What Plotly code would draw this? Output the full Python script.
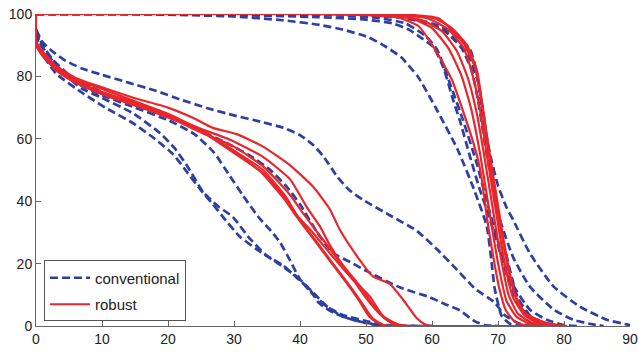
import plotly.graph_objects as go

# ---- Data (dose in Gy on x, volume % on y) ----
x_ticks = [0, 10, 20, 30, 40, 50, 60, 70, 80, 90]
y_ticks = [0, 20, 40, 60, 80, 100]

# conventional plans (blue dashed) - target curves
conv_t1 = [(0,100),(15,100),(20,99.8),(30,99.2),(37.4,98),(43,96.5),(46.5,95),(50.3,92.6),(53,89.5),(55.3,86.2),(57.9,79.8),(60.5,70.2),(63.9,56.5),(66.5,43),(68.3,32),(69,21),(69.5,12),(70.6,3),(72,0.5),(74,0)]
conv_t2 = [(0,100),(20,100),(30,99.7),(42.7,99),(50,98.2),(54,97),(56.5,95),(58.2,92.6),(60.2,89.4),(61.7,83),(63.2,72.5),(64.2,66),(65.8,54),(67.2,44),(68.5,36),(69.7,28),(70.8,20),(72,12),(73.5,6),(75.5,2),(78,0.3),(80,0)]
conv_t3 = [(0,100),(30,100),(45,99.6),(52,98.7),(56,97),(59,93),(60.8,88.5),(62.7,77.8),(64.7,66),(66.8,52),(68.3,40),(69.8,28.6),(71.8,14.9),(74.8,5.3),(77.4,2),(80,0.3),(82,0)]
conv_t4 = [(0,100),(30,100),(48,99.8),(55,99.3),(58.2,98),(61,96.3),(63.2,93.8),(65.8,88.5),(66.8,81),(67.6,69),(68.8,55),(70,45),(71.3,38),(72.3,34),(74.8,23.4),(78.4,12.7),(82.4,6.2),(86.5,2),(89.5,0.5),(90,0.3)]
conv_t5 = [(0,100),(30,100),(48,99.7),(55,99),(59,97.3),(62,94.5),(64.5,89),(66,82),(67,72),(68.2,56),(69.3,44),(70.3,34),(72.3,22),(74.8,12.7),(78.4,5.3),(81.4,2),(84.4,0.5),(86,0)]
conv_t6 = [(0,100),(35,100),(50,99.6),(56,98.7),(60,96.5),(63,93),(65.5,87),(67,78),(68,65),(68.8,50),(69.5,40),(70.5,30),(71.8,18),(73,9),(75,3),(77,1),(79,0)]

# conventional plans (blue dashed) - organ-at-risk curves
conv_o1 = [(0,95),(1,91),(2.5,88),(4.5,85),(7,82.5),(10,80.5),(14,78),(18,75.5),(22,72.5),(26,69.8),(30,67.5),(34,65.5),(37.5,63.5),(40,61.2),(42,58),(43.5,54.5),(45.6,48),(47.5,43.5),(49.5,40.5),(53.6,35.5),(57.7,30.5),(60.8,24.5),(63.8,18),(66.5,12),(69.5,7.5),(71,3.5),(73,1),(75,0)]
conv_o2 = [(0,95),(1,90),(2.5,85.5),(5,80.5),(10,75),(15,71),(20,67),(25,62.5),(29,58.5),(32.5,54.5),(35.5,50),(38,44.6),(40,39),(42.6,30),(45,23.4),(47.6,20.5),(50.2,17.5),(55.2,12.3),(59.7,9.2),(62,7),(64.2,5),(66.5,1.5),(68,0.3),(70,0)]
conv_o3 = [(0,94),(0.6,90.6),(2.5,85),(4.7,80),(7,76),(9.7,73.4),(14.7,68.2),(18.8,61.8),(21,57),(23,51),(25.3,43),(27.5,38.5),(29.8,35),(32.4,28),(35,22.5),(37.4,19.5),(39.5,15.5),(41.5,11.7),(42.8,7.5),(45,4.3),(48,2),(51,0.5),(53,0),(60,0)]
conv_o4 = [(0,93.5),(0.6,88.5),(3,81),(7.1,74.6),(10.5,70),(14.7,65),(18,60),(20.8,55),(23,49),(25,43.5),(26.8,39),(28.5,34.5),(30.9,28.6),(33.5,24.5),(36.5,20.3),(39.5,15.8),(41.5,11.2),(44.1,6.2),(46.5,3.5),(50.2,1.5),(53,0.3),(55,0),(60,0)]
conv_o5 = [(0,94.5),(1,89.5),(3,83),(6,78),(10,74),(15,70),(20,66),(24,61.5),(27,55.5),(29.4,48),(31.4,41.7),(33.9,34.4),(35.6,30.5),(37,26.7),(38.5,21),(40,15),(42,10.7),(44.1,6.2),(46.5,3),(49,1.5),(52,0.3),(54,0),(60,0)]

# robust plans (red solid) - target curves
rob_t1 = [(0,100),(40,100),(50,99.6),(55,98.8),(58,96),(60.5,88.5),(63,79),(65,67),(66.5,57),(67.4,49),(68.3,35),(69.3,22),(70.2,12),(71.2,5),(72.5,1.5),(74,0.3),(76,0),(80,0)]
rob_t2 = [(0,100),(42,100),(52,99.6),(57,98.5),(60,95.5),(62.5,89),(64.5,80),(66,69),(67.3,55),(68.3,42),(69.2,30),(70.2,18),(71.3,8),(72.8,3),(74.5,1),(77,0),(80,0)]
rob_t3 = [(0,100),(45,100),(54,99.5),(58.5,98),(61.5,94.5),(63.8,88),(65.5,79),(66.8,68),(67.8,56),(68.8,43),(69.7,31),(70.6,20),(71.6,10),(73,4),(75,1.2),(78,0),(80,0)]
rob_t4 = [(0,100),(45,100),(55,99.6),(59.5,98.5),(62.5,95),(64.8,89),(66.2,80),(67.3,69),(68.3,55),(69.3,42),(70.2,30),(71.2,18),(72.3,9),(74,3.5),(76,1),(79,0),(80,0)]
rob_t5 = [(0,100),(46,100),(56,99.6),(60.5,98.5),(63,95.5),(65.3,90),(66.8,82),(67.7,70),(68.6,57),(69.6,44),(70.5,32),(71.5,20),(72.6,10),(74.2,4),(77,1.2),(80,0)]
rob_t6 = [(0,100),(48,100),(57,99.7),(61,98.6),(62.9,95),(64.8,90.5),(66.5,83),(67.5,72),(68.3,60),(69,49),(70,36),(71,24),(72,14),(73.3,6),(75,2.5),(78,0.6),(80.5,0)]

# robust plans (red solid) - organ-at-risk curves
rob_o1 = [(0,100),(0,91.5),(1,88),(3,83.5),(6,79.5),(10,76.5),(15,73),(20,70),(24,66.5),(26.8,63.5),(30.4,61.5),(34.4,57.5),(38.5,51.5),(42,44.6),(44.5,37.5),(46,31),(48.6,22.5),(51,16),(53.6,13.5),(55.6,8.5),(57.7,2.5),(59,0.5),(60,0),(80,0)]
rob_o2 = [(0,100),(0,91),(1,87.5),(3,83),(6,79),(10,76),(15,72),(20,68),(24,64),(29.4,59.7),(34.4,54.2),(38.5,47),(41,38.2),(43,32),(44.5,26),(46.5,19.5),(49,13),(51,7),(53,2.5),(55,0.5),(57,0),(80,0)]
rob_o3 = [(0,100),(0,91),(1,87),(3,82),(6,78),(10,74.5),(15,71),(20,67),(24,64),(29.4,57),(34.4,50),(38,41),(39.5,35.5),(41.5,31),(44.5,23.4),(47.6,15.8),(50.6,9.4),(52.6,3),(54,0.8),(55,0),(80,0)]
rob_o4 = [(0,100),(0,90.5),(1,86.5),(3,82.5),(6,78.5),(10,75),(15,71.5),(20,67.5),(25,62.5),(29.4,56.3),(34.4,49),(38,40.5),(40,34),(42.5,27),(45,20),(47.5,13),(49.5,7),(51,2.5),(52.5,0.5),(54,0),(80,0)]
rob_o5 = [(0,100),(0,91),(1.5,86),(4,81),(7,77.5),(11,74),(16,70.5),(21,66.5),(25.5,62),(30,56),(34,49.5),(37.5,41),(39.5,35),(42,28),(44.5,21),(47,14),(49,8),(50.5,3),(52,0.8),(53,0),(80,0)]
rob_o6 = [(0,100),(0,90),(1.5,85.5),(4,80.5),(7,77),(11,73.5),(16,70),(21,66),(25,62),(30,57.5),(34.5,51),(38.5,42),(40.5,36),(43,29),(45.5,22),(48,15),(50,9),(52,4),(53.5,1.5),(55,0),(80,0)]

conventional = [conv_t1, conv_t2, conv_t3, conv_t4, conv_t5, conv_t6,
                conv_o1, conv_o2, conv_o3, conv_o4, conv_o5]
robust = [rob_t1, rob_t2, rob_t3, rob_t4, rob_t5, rob_t6,
          rob_o1, rob_o2, rob_o3, rob_o4, rob_o5, rob_o6]

BLUE = "#2E3FA3"
RED = "#E8262B"

fig = go.Figure()
for i, curve in enumerate(conventional):
    xs = [p[0] for p in curve]
    ys = [p[1] for p in curve]
    fig.add_trace(go.Scatter(
        x=xs, y=ys, mode="lines", name="conventional",
        legendgroup="conv", showlegend=(i == 0),
        line=dict(color=BLUE, width=2.7, dash="8px,4px", shape="spline", smoothing=0.5),
        hoverinfo="skip"))
for i, curve in enumerate(robust):
    xs = [p[0] for p in curve]
    ys = [p[1] for p in curve]
    fig.add_trace(go.Scatter(
        x=xs, y=ys, mode="lines", name="robust",
        legendgroup="rob", showlegend=(i == 0),
        line=dict(color=RED, width=2.2, shape="spline", smoothing=0.5),
        hoverinfo="skip"))

axis_common = dict(
    showgrid=False, zeroline=False, showline=True, linecolor="#666666", linewidth=1,
    ticks="inside", ticklen=5, tickcolor="#666666", tickwidth=1,
    tickfont=dict(family="Liberation Sans, Arial, sans-serif", size=14, color="#222222"),
    mirror=False, automargin=False,
)
fig.update_xaxes(range=[0, 90], tickvals=x_ticks, **axis_common)
fig.update_yaxes(range=[0, 100], tickvals=y_ticks, **axis_common)

fig.update_layout(
    width=638, height=352,
    margin=dict(l=36, r=8, t=14, b=26),
    paper_bgcolor="white", plot_bgcolor="white",
    showlegend=True,
    legend=dict(
        x=0.0135, y=0.21, xanchor="left", yanchor="top",
        bgcolor="white", bordercolor="#555555", borderwidth=1,
        font=dict(family="Liberation Sans, Arial, sans-serif", size=15, color="#222222"),
        traceorder="grouped", tracegroupgap=4, itemwidth=40,
    ),
)

fig.write_html(
    "out.html",
    config={"displayModeBar": False, "staticPlot": True},
    post_script="document.body.style.margin='0';document.body.style.overflow='hidden';",
)
